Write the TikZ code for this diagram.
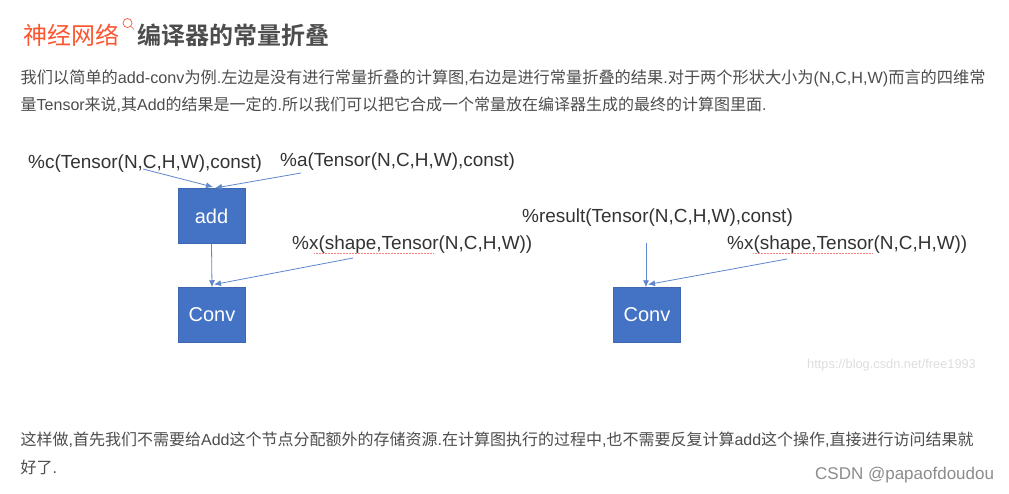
\documentclass[tikz,border=0pt]{standalone}
\usepackage{fontspec}
\setmainfont{Liberation Sans}
\newfontfamily\cjk{Noto Sans CJK SC}
\newfontfamily\cjkb{Noto Sans CJK SC Bold}
\usetikzlibrary{arrows.meta}
\definecolor{boxblue}{HTML}{4472C4}
\definecolor{boxedge}{HTML}{3F68B0}
\definecolor{bodyc}{HTML}{4D4D4D}
\definecolor{linkc}{HTML}{FC5531}
\tikzset{
  box/.style={draw=boxedge,line width=.5pt,fill=boxblue,minimum width=67pt,minimum height=55pt,inner sep=0pt,text=white,font=\fontsize{20}{20}\selectfont},
  flow/.style={draw=boxblue!85,line width=.8pt,-{Latex[length=7pt,width=6pt]}},
  lab/.style={anchor=west,inner sep=0pt,text=black!80,font=\fontsize{18.95}{20}\selectfont},
  para/.style={anchor=west,inner sep=0pt,text=bodyc,font=\fontsize{16}{16}\selectfont},
  wig/.style={draw=red!50,line width=.5pt,densely dotted}
}
\begin{document}
\begin{tikzpicture}[x=1pt,y=-1pt]
\useasboundingbox (0,0) rectangle (1009,493);
\fill[white] (0,0) rectangle (1009,493);
\node[anchor=west,inner sep=0pt,text=linkc,font=\fontsize{24}{24}\selectfont\cjk] (kw) at (23,35) {神经网络};
\draw[color=linkc,line width=.7pt] (127.5,23) circle (4.5pt);
\coordinate (lensa) at (130.8,26.3);
\coordinate (lensb) at (134,29.5);
\draw[color=linkc,line width=.7pt] (lensa) -- (lensb);
\node[anchor=west,inner sep=0pt,text=bodyc,font=\fontsize{24}{24}\selectfont\cjkb] (ttl) at (137,35) {编译器的常量折叠};
\node[para,font=\fontsize{16.2}{16}\selectfont] (p1) at (20.5,78) {{\cjk 我们以简单的}add-conv{\cjk 为例}.{\cjk 左边是没有进行常量折叠的计算图},{\cjk 右边是进行常量折叠的结果}.{\cjk 对于两个形状大小为}(N,C,H,W){\cjk 而言的四维常}};
\node[para] (p2) at (20.5,105) {{\cjk 量}Tensor{\cjk 来说},{\cjk 其}Add{\cjk 的结果是一定的}.{\cjk 所以我们可以把它合成一个常量放在编译器生成的最终的计算图里面}.};
\node[lab] (lc) at (28,164) {\%c(Tensor(N,C,H,W),const)};
\node[lab] (la) at (280,162) {\%a(Tensor(N,C,H,W),const)};
\node[lab] (lx) at (292,245) {\%x(shape,Tensor(N,C,H,W))};
\node[lab] (lr) at (522,218) {\%result(Tensor(N,C,H,W),const)};
\node[lab] (lx2) at (727,245) {\%x(shape,Tensor(N,C,H,W))};
\node[box] (add) at (211.5,216) {add};
\node[box] (conv) at (212,315) {Conv};
\node[box] (conv2) at (647,315) {Conv};
\coordinate (c1) at (143,169);
\coordinate (a1) at (301,173);
\coordinate (t1) at (213,187);
\coordinate (t1b) at (215,188);
\coordinate (x1) at (353,258);
\coordinate (t2) at (214,284.5);
\coordinate (r1) at (646,243);
\coordinate (x2) at (787,259);
\coordinate (t3) at (648,284.5);
\draw[flow] (c1) -- (t1);
\draw[flow] (a1) -- (t1b);
\draw[flow] (add.south) -- (conv.north);
\draw[flow] (x1) -- (t2);
\draw[flow] (r1) -- (conv2.north -| r1);
\draw[flow] (x2) -- (t3);
\coordinate (w1a) at (314,253);
\coordinate (w1b) at (433,253);
\coordinate (w2a) at (753,253);
\coordinate (w2b) at (872,253);
\draw[wig] (w1a) -- (w1b);
\draw[wig] (w2a) -- (w2b);
\node[anchor=west,inner sep=0pt,text=black!13,font=\fontsize{12.8}{14}\selectfont] (wm) at (807,365.5) {https://blog.csdn.net/free1993};
\node[para] (p3) at (20.5,440) {{\cjk 这样做},{\cjk 首先我们不需要给}Add{\cjk 这个节点分配额外的存储资源}.{\cjk 在计算图执行的过程中},{\cjk 也不需要反复计算}add{\cjk 这个操作},{\cjk 直接进行访问结果就}};
\node[para] (p4) at (20.5,467) {{\cjk 好了}.};
\node[anchor=west,inner sep=0pt,text=black!45,font=\fontsize{17}{16}\selectfont] (csdn) at (815,475) {CSDN @papaofdoudou};
\end{tikzpicture}
\end{document}
